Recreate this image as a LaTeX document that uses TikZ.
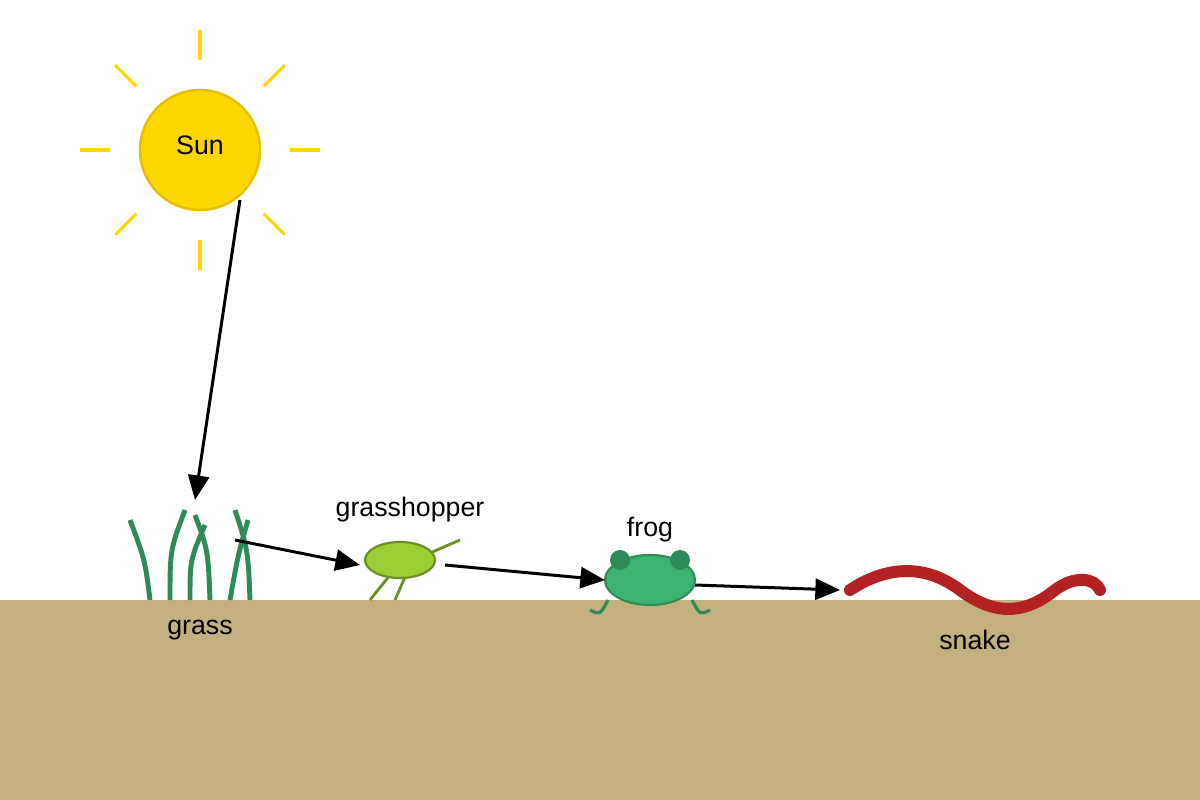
\documentclass[tikz,border=0pt]{standalone}
\usepackage{fontspec}
\setmainfont{Liberation Sans}
\usetikzlibrary{arrows.meta,calc,shapes.geometric}
\definecolor{ground}{RGB}{194,176,126}
\definecolor{sungold}{RGB}{255,215,0}
\definecolor{sunedge}{RGB}{230,190,0}
\definecolor{grassgreen}{RGB}{46,139,87}
\definecolor{frogbody}{RGB}{60,179,113}
\definecolor{hopperbody}{RGB}{154,205,50}
\definecolor{hopperedge}{RGB}{107,142,35}
\definecolor{snakered}{RGB}{178,34,34}
\begin{document}
\begin{tikzpicture}[x=0.01cm, y=-0.01cm,
  lbl/.style={font=\fontsize{7.6}{9}\selectfont, inner sep=0pt},
  flow/.style={draw=black, line width=0.85pt, -{Triangle[length=7pt,width=6pt]}},
  blade/.style={draw=grassgreen, line width=1.4pt}]
\useasboundingbox (0,0) rectangle (1200,800);
\fill[ground] (0,600) rectangle (1200,800);
% sun
\foreach \a in {0,45,...,315}
  \draw[sungold, line width=0.9pt] ($(200,150)+(\a:90)$) -- ($(200,150)+(\a:120)$);
\node[circle, fill=sungold, draw=sunedge, line width=0.7pt, minimum size=1.2cm, inner sep=0pt] (sun) at (200,150) {};
\node[lbl] (sunL) at (200,145) {Sun};
% grass
\draw[blade] (150,600) .. controls (145,560) .. (130,520);
\draw[blade] (170,600) .. controls (170,550) .. (185,510);
\draw[blade] (190,600) .. controls (190,560) .. (205,525);
\draw[blade] (210,600) .. controls (208,550) .. (195,515);
\draw[blade] (230,600) .. controls (238,555) .. (248,520);
\draw[blade] (250,600) .. controls (248,550) .. (235,510);
\coordinate (grassTop) at (195,500);
\coordinate (grassOut) at (235,540);
\node[lbl] (grassL) at (200,630) {grass};
% grasshopper
\draw[hopperedge, line width=0.8pt] (390,575) -- (370,600) (405,577) -- (395,600) (430,553) -- (460,540);
\node[ellipse, fill=hopperbody, draw=hopperedge, line width=0.6pt, minimum width=0.7cm, minimum height=0.36cm, inner sep=0pt] (hopper) at (400,560) {};
\node[lbl] (hopperL) at (410,510) {grasshopper};
% frog
\draw[grassgreen, line width=0.9pt] (608,600) .. controls (600,615) .. (590,610) (692,600) .. controls (700,615) .. (710,610);
\node[ellipse, fill=frogbody, draw=grassgreen, line width=0.6pt, minimum width=0.9cm, minimum height=0.5cm, inner sep=0pt] (frog) at (650,580) {};
\fill[grassgreen] (620,560) circle (10) (680,560) circle (10);
\node[lbl] (frogL) at (650,530) {frog};
% snake
\draw[snakered, line width=3.4pt, line cap=round] (850,590) .. controls (880,570) and (920,560) .. (960,590) .. controls (1000,620) and (1030,610) .. (1055,590) .. controls (1075,575) and (1095,578) .. (1100,590);
\coordinate (snake) at (840,590);
\node[lbl] (snakeL) at (975,640) {snake};
% flow of energy
\draw[flow] (240,200) -- (grassTop);
\draw[flow] (grassOut) -- (360,565);
\draw[flow] (445,565) -- (605,580);
\draw[flow] (695,585) -- (snake);
\end{tikzpicture}
\end{document}
